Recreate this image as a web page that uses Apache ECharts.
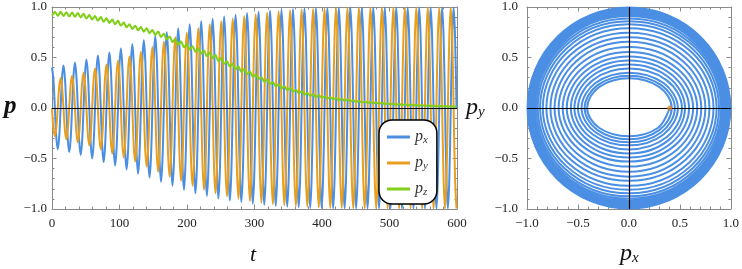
<!DOCTYPE html>
<html>
<head>
<meta charset="utf-8">
<script src="https://cdn.jsdelivr.net/npm/echarts@6/dist/echarts.min.js"></script>
<style>
html,body{margin:0;padding:0;background:#fff;}
#c{width:742px;height:269px;}
</style>
</head>
<body>
<div id="c"></div>
<script>
// Sample times t (eight samples per oscillation period, period about 17)
const tVals = [
0,2.125,4.25,6.375,8.5,10.625,12.75,14.875,
17,19.125,21.25,23.375,25.5,27.625,29.75,31.875,
34,36.125,38.25,40.375,42.5,44.625,46.75,48.875,
51,53.125,55.25,57.375,59.5,61.625,63.75,65.875,
68,70.125,72.25,74.375,76.5,78.625,80.75,82.875,
85,87.125,89.25,91.375,93.5,95.625,97.75,99.875,
102,104.125,106.25,108.375,110.5,112.625,114.75,116.875,
119,121.125,123.25,125.375,127.5,129.625,131.75,133.875,
136,138.125,140.25,142.375,144.5,146.625,148.75,150.875,
153,155.125,157.25,159.375,161.5,163.625,165.75,167.875,
170,172.125,174.25,176.375,178.5,180.625,182.75,184.875,
187,189.125,191.25,193.375,195.5,197.625,199.75,201.875,
204,206.125,208.25,210.375,212.5,214.625,216.75,218.875,
221,223.125,225.25,227.375,229.5,231.625,233.75,235.875,
238,240.125,242.25,244.375,246.5,248.625,250.75,252.875,
255,257.125,259.25,261.375,263.5,265.625,267.75,269.875,
272,274.125,276.25,278.375,280.5,282.625,284.75,286.875,
289,291.125,293.25,295.375,297.5,299.625,301.75,303.875,
306,308.125,310.25,312.375,314.5,316.625,318.75,320.875,
323,325.125,327.25,329.375,331.5,333.625,335.75,337.875,
340,342.125,344.25,346.375,348.5,350.625,352.75,354.875,
357,359.125,361.25,363.375,365.5,367.625,369.75,371.875,
374,376.125,378.25,380.375,382.5,384.625,386.75,388.875,
391,393.125,395.25,397.375,399.5,401.625,403.75,405.875,
408,410.125,412.25,414.375,416.5,418.625,420.75,422.875,
425,427.125,429.25,431.375,433.5,435.625,437.75,439.875,
442,444.125,446.25,448.375,450.5,452.625,454.75,456.875,
459,461.125,463.25,465.375,467.5,469.625,471.75,473.875,
476,478.125,480.25,482.375,484.5,486.625,488.75,490.875,
493,495.125,497.25,499.375,501.5,503.625,505.75,507.875,
510,512.125,514.25,516.375,518.5,520.625,522.75,524.875,
527,529.125,531.25,533.375,535.5,537.625,539.75,541.875,
544,546.125,548.25,550.375,552.5,554.625,556.75,558.875,
561,563.125,565.25,567.375,569.5,571.625,573.75,575.875,
578,580.125,582.25,584.375,586.5,588.625,590.75,592.875,
595,597.125,599.25];

const pxVals = [
0.40,0.283,0,-0.29,-0.41,-0.29,0,0.297,
0.42,0.297,0,-0.308,-0.435,-0.308,0,0.318,
0.45,0.318,0,-0.329,-0.465,-0.329,0,0.339,
0.48,0.339,0,-0.354,-0.50,-0.354,0,0.368,
0.52,0.368,0,-0.378,-0.535,-0.378,0,0.389,
0.55,0.389,0,-0.403,-0.57,-0.403,0,0.417,
0.59,0.417,0,-0.431,-0.61,-0.431,0,0.445,
0.63,0.445,0,-0.46,-0.65,-0.46,0,0.474,
0.67,0.474,0,-0.488,-0.69,-0.488,0,0.502,
0.71,0.502,0,-0.516,-0.73,-0.516,0,0.53,
0.75,0.53,0,-0.544,-0.77,-0.544,0,0.559,
0.79,0.559,0,-0.573,-0.81,-0.573,0,0.587,
0.83,0.587,0,-0.597,-0.845,-0.597,0,0.608,
0.86,0.608,0,-0.617,-0.872,-0.617,0,0.625,
0.884,0.625,0,-0.633,-0.895,-0.633,0,0.64,
0.905,0.64,0,-0.647,-0.915,-0.647,0,0.653,
0.924,0.653,0,-0.659,-0.932,-0.659,0,0.665,
0.94,0.665,0,-0.67,-0.947,-0.67,0,0.674,
0.953,0.674,0,-0.678,-0.959,-0.678,0,0.682,
0.964,0.682,0,-0.685,-0.969,-0.685,0,0.688,
0.973,0.688,0,-0.691,-0.977,-0.691,0,0.693,
0.98,0.693,0,-0.695,-0.983,-0.695,0,0.697,
0.986,0.697,0,-0.699,-0.988,-0.699,0,0.70,
0.99,0.70,0,-0.701,-0.991,-0.701,0,0.701,
0.992,0.701,0,-0.702,-0.993,-0.702,0,0.702,
0.993,0.702,0,-0.703,-0.994,-0.703,0,0.703,
0.994,0.703,0,-0.703,-0.995,-0.703,0,0.703,
0.995,0.703,0,-0.703,-0.995,-0.703,0,0.703,
0.995,0.703,0,-0.703,-0.995,-0.703,0,0.703,
0.995,0.703,0,-0.703,-0.995,-0.703,0,0.703,
0.995,0.703,0,-0.703,-0.995,-0.703,0,0.703,
0.995,0.703,0,-0.703,-0.995,-0.703,0,0.703,
0.995,0.703,0,-0.703,-0.995,-0.703,0,0.703,
0.995,0.703,0,-0.703,-0.995,-0.703,0,0.703,
0.995,0.703,0,-0.703,-0.995,-0.703,0,0.703,
0.995,0.703,0];

const pyVals = [
0,-0.198,-0.28,-0.198,0,0.209,0.295,0.209,
0,-0.219,-0.31,-0.219,0,0.226,0.32,0.226,
0,-0.24,-0.34,-0.24,0,0.247,0.35,0.247,
0,-0.262,-0.37,-0.262,0,0.276,0.39,0.276,
0,-0.29,-0.41,-0.29,0,0.304,0.43,0.304,
0,-0.318,-0.45,-0.318,0,0.332,0.47,0.332,
0,-0.346,-0.49,-0.346,0,0.361,0.51,0.361,
0,-0.375,-0.53,-0.375,0,0.392,0.555,0.392,
0,-0.41,-0.58,-0.41,0,0.428,0.605,0.428,
0,-0.445,-0.63,-0.445,0,0.463,0.655,0.463,
0,-0.481,-0.68,-0.481,0,0.495,0.70,0.495,
0,-0.509,-0.72,-0.509,0,0.527,0.745,0.527,
0,-0.544,-0.77,-0.544,0,0.559,0.79,0.559,
0,-0.573,-0.81,-0.573,0,0.585,0.828,0.585,
0,-0.597,-0.845,-0.597,0,0.608,0.86,0.608,
0,-0.618,-0.874,-0.618,0,0.627,0.887,0.627,
0,-0.636,-0.899,-0.636,0,0.643,0.91,0.643,
0,-0.65,-0.92,-0.65,0,0.657,0.929,0.657,
0,-0.662,-0.937,-0.662,0,0.667,0.944,0.667,
0,-0.672,-0.951,-0.672,0,0.677,0.957,0.677,
0,-0.68,-0.962,-0.68,0,0.684,0.967,0.684,
0,-0.686,-0.971,-0.686,0,0.689,0.975,0.689,
0,-0.691,-0.978,-0.691,0,0.694,0.981,0.694,
0,-0.696,-0.984,-0.696,0,0.697,0.986,0.697,
0,-0.699,-0.988,-0.699,0,0.70,0.99,0.70,
0,-0.701,-0.991,-0.701,0,0.701,0.992,0.701,
0,-0.702,-0.993,-0.702,0,0.703,0.994,0.703,
0,-0.703,-0.994,-0.703,0,0.703,0.995,0.703,
0,-0.703,-0.995,-0.703,0,0.703,0.995,0.703,
0,-0.703,-0.995,-0.703,0,0.703,0.995,0.703,
0,-0.703,-0.995,-0.703,0,0.703,0.995,0.703,
0,-0.703,-0.995,-0.703,0,0.703,0.995,0.703,
0,-0.703,-0.995,-0.703,0,0.703,0.995,0.703,
0,-0.703,-0.995,-0.703,0,0.703,0.995,0.703,
0,-0.703,-0.995,-0.703,0,0.703,0.995,0.703,
0,-0.703,-0.995];

const pzVals = [
0.915,0.934,0.954,0.933,0.913,0.932,0.952,0.931,
0.911,0.93,0.949,0.928,0.907,0.926,0.945,0.924,
0.903,0.922,0.941,0.919,0.897,0.914,0.932,0.909,
0.886,0.903,0.921,0.898,0.876,0.893,0.91,0.887,
0.865,0.882,0.90,0.877,0.854,0.871,0.889,0.865,
0.842,0.859,0.876,0.853,0.83,0.846,0.863,0.839,
0.816,0.831,0.847,0.823,0.799,0.814,0.83,0.806,
0.782,0.798,0.815,0.792,0.769,0.785,0.802,0.779,
0.756,0.773,0.79,0.765,0.741,0.756,0.772,0.747,
0.722,0.74,0.758,0.731,0.704,0.719,0.735,0.706,
0.678,0.693,0.709,0.681,0.653,0.668,0.684,0.655,
0.627,0.642,0.658,0.63,0.602,0.617,0.633,0.605,
0.578,0.594,0.611,0.584,0.557,0.573,0.59,0.563,
0.536,0.552,0.569,0.541,0.514,0.531,0.548,0.52,
0.493,0.508,0.524,0.494,0.465,0.479,0.494,0.466,
0.438,0.45,0.463,0.436,0.41,0.423,0.437,0.41,
0.384,0.397,0.411,0.384,0.358,0.372,0.386,0.359,
0.333,0.346,0.36,0.334,0.308,0.319,0.33,0.308,
0.287,0.296,0.305,0.283,0.261,0.27,0.279,0.258,
0.237,0.246,0.256,0.236,0.216,0.225,0.235,0.215,
0.195,0.205,0.216,0.196,0.177,0.188,0.199,0.182,
0.165,0.172,0.179,0.164,0.149,0.156,0.163,0.148,
0.134,0.141,0.149,0.135,0.121,0.129,0.137,0.123,
0.11,0.118,0.127,0.115,0.103,0.108,0.114,0.104,
0.094,0.10,0.106,0.096,0.086,0.092,0.098,0.088,
0.078,0.084,0.091,0.081,0.072,0.078,0.085,0.075,
0.066,0.071,0.076,0.069,0.062,0.065,0.069,0.062,
0.056,0.059,0.063,0.057,0.051,0.055,0.059,0.053,
0.047,0.051,0.055,0.049,0.043,0.047,0.051,0.045,
0.039,0.043,0.047,0.041,0.036,0.039,0.042,0.037,
0.032,0.035,0.039,0.034,0.03,0.033,0.037,0.032,
0.027,0.03,0.034,0.029,0.025,0.028,0.031,0.026,
0.022,0.025,0.029,0.025,0.021,0.023,0.026,0.022,
0.019,0.021,0.024,0.021,0.017,0.019,0.022,0.019,
0.015,0.017,0.02,0.017,0.013,0.015,0.018,0.015,
0.011,0.014,0.016];

const seriesNames = ['px', 'py', 'pz'];
const tTicks = [0, 600, 100];
const pTicks = [-1, 1, 0.5];

const BLUE = '#4a8fe3', ORANGE = '#e89e1e', GREEN = '#82cf1a';
const SERIF = '"Liberation Serif", "DejaVu Serif", serif';
const FRAME = '#8a8a8a';
const SMOOTH = 0.375;
const fmtNum = v => (v < 0 ? '\u2212' : '') + Math.abs(v).toFixed(1);

const chart = echarts.init(document.getElementById('c'), null, {renderer: 'canvas'});

function frameAxis(extra) {
  return Object.assign({
    type: 'value',
    axisLine: {show: true, onZero: false, lineStyle: {color: FRAME, width: 1}},
    axisTick: {show: true, inside: true, length: 4.5, lineStyle: {color: FRAME}},
    minorTick: {show: true, splitNumber: 5, length: 2.5, lineStyle: {color: FRAME}},
    splitLine: {show: false},
    axisLabel: {show: false}
  }, extra);
}
const labelStyle = {fontFamily: SERIF, fontSize: 13, color: '#222'};

const option = {
  animation: false,
  grid: [
    {left: 52, top: 7, width: 405, height: 202, show: false},
    {left: 527, top: 7, width: 206, height: 202, show: false}
  ],
  xAxis: [
    frameAxis({gridIndex: 0, position: 'bottom', min: tTicks[0], max: tTicks[1], interval: tTicks[2],
      axisLabel: Object.assign({show: true, margin: 8}, labelStyle)}),
    frameAxis({gridIndex: 0, position: 'top', min: tTicks[0], max: tTicks[1], interval: tTicks[2]}),
    frameAxis({gridIndex: 1, position: 'bottom', min: pTicks[0], max: pTicks[1], interval: pTicks[2],
      axisLabel: Object.assign({show: true, margin: 8, formatter: fmtNum}, labelStyle)}),
    frameAxis({gridIndex: 1, position: 'top', min: pTicks[0], max: pTicks[1], interval: pTicks[2]})
  ],
  yAxis: [
    frameAxis({gridIndex: 0, position: 'left', min: pTicks[0], max: pTicks[1], interval: pTicks[2],
      axisLabel: Object.assign({show: true, margin: 5, formatter: fmtNum}, labelStyle)}),
    frameAxis({gridIndex: 0, position: 'right', min: pTicks[0], max: pTicks[1], interval: pTicks[2]}),
    frameAxis({gridIndex: 1, position: 'left', min: pTicks[0], max: pTicks[1], interval: pTicks[2],
      axisLabel: Object.assign({show: true, margin: 9, formatter: fmtNum}, labelStyle)}),
    frameAxis({gridIndex: 1, position: 'right', min: pTicks[0], max: pTicks[1], interval: pTicks[2]})
  ],
  legend: {
    data: seriesNames,
    left: 379, top: 120, orient: 'vertical',
    icon: 'rect', itemWidth: 23, itemHeight: 3, itemGap: 8,
    padding: [8, 9, 6, 8],
    backgroundColor: '#fff', borderColor: '#000', borderWidth: 1.5, borderRadius: 13,
    formatter: n => '{p|p}{s|' + n.slice(1) + '}',
    textStyle: {
      rich: {
        p: {fontFamily: SERIF, fontStyle: 'italic', fontSize: 16, color: '#333', lineHeight: 18},
        s: {fontFamily: SERIF, fontStyle: 'italic', fontSize: 11, color: '#333', padding: [7, 0, 0, 0], lineHeight: 18}
      }
    }
  },
  series: [
    {
      name: 'px', type: 'line', xAxisIndex: 0, yAxisIndex: 0,
      data: tVals.map((t, i) => [t, pxVals[i]]),
      smooth: SMOOTH, showSymbol: false, symbol: 'none',
      lineStyle: {color: BLUE, width: 2}, itemStyle: {color: BLUE},
      markLine: {silent: true, symbol: 'none', label: {show: false},
        lineStyle: {color: '#000', width: 1.2, type: 'solid'}, data: [{yAxis: 0}]}
    },
    {
      name: 'py', type: 'line', xAxisIndex: 0, yAxisIndex: 0,
      data: tVals.map((t, i) => [t, pyVals[i]]),
      smooth: SMOOTH, showSymbol: false, symbol: 'none',
      lineStyle: {color: ORANGE, width: 2}, itemStyle: {color: ORANGE}
    },
    {
      name: 'pz', type: 'line', xAxisIndex: 0, yAxisIndex: 0,
      data: tVals.map((t, i) => [t, pzVals[i]]),
      smooth: SMOOTH, showSymbol: false, symbol: 'none',
      lineStyle: {color: GREEN, width: 2}, itemStyle: {color: GREEN}
    },
    {
      name: 'traj', type: 'line', xAxisIndex: 2, yAxisIndex: 2,
      data: pxVals.map((x, i) => [x, pyVals[i]]),
      smooth: SMOOTH, showSymbol: false, symbol: 'none',
      lineStyle: {color: BLUE, width: 2}, itemStyle: {color: BLUE},
      markLine: {silent: true, symbol: 'none', label: {show: false},
        lineStyle: {color: '#000', width: 1.2, type: 'solid'}, data: [{yAxis: 0}, {xAxis: 0}]}
    },
    {
      name: 'start', type: 'scatter', xAxisIndex: 2, yAxisIndex: 2,
      data: [[pxVals[0], pyVals[0]]], symbolSize: 5,
      itemStyle: {color: '#d9822b'}, z: 5
    }
  ],
  graphic: [
    {type: 'text', left: 4, top: 94, style: {text: 'p', font: 'italic bold 25px ' + SERIF, fill: '#111'}},
    {type: 'text', left: 250, top: 244, style: {text: 't', font: 'italic 22px ' + SERIF, fill: '#111'}},
    {type: 'text', left: 466, top: 96, style: {
      text: '{p|p}{s|y}',
      rich: {p: {font: 'italic 24px ' + SERIF, fill: '#111'}, s: {font: 'italic 15px ' + SERIF, fill: '#111', padding: [9, 0, 0, 0]}}
    }},
    {type: 'text', left: 620, top: 242, style: {
      text: '{p|p}{s|x}',
      rich: {p: {font: 'italic 24px ' + SERIF, fill: '#111'}, s: {font: 'italic 15px ' + SERIF, fill: '#111', padding: [9, 0, 0, 0]}}
    }}
  ]
};
chart.setOption(option);
</script>
</body>
</html>
